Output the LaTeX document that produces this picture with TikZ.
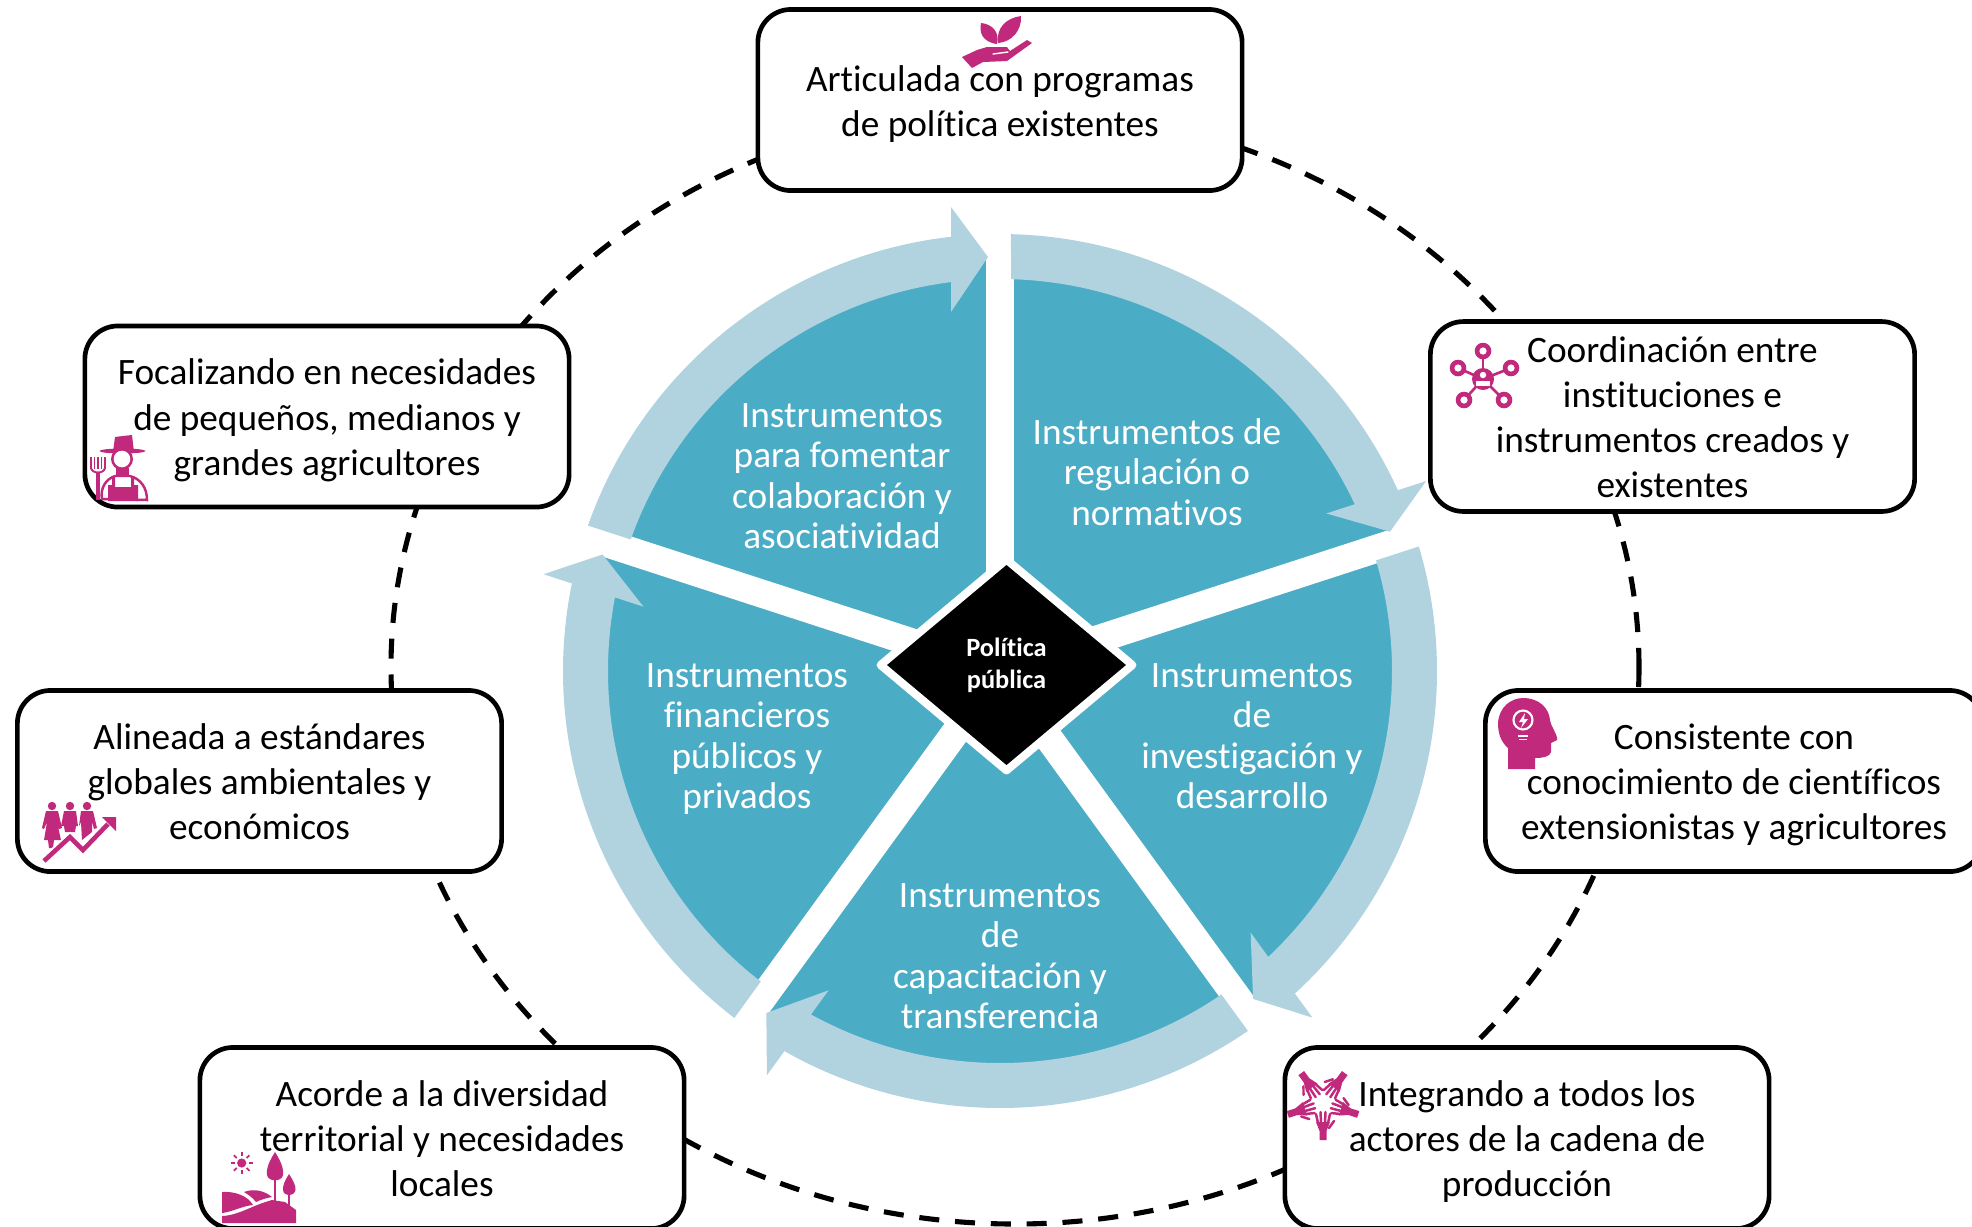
\documentclass[tikz,border=0pt]{standalone}
\usepackage{fontspec}
\setmainfont{Carlito}[Ligatures=NoCommon]
\usetikzlibrary{shapes.geometric,shadows}
\definecolor{tealwheel}{HTML}{4BACC6}
\definecolor{lightring}{HTML}{B1D3E0}
\definecolor{iconpink}{HTML}{C12A7C}
\newcommand\altocuadro{\rule{0pt}{11.6pt}}
\newcommand\altoinstr{\rule{0pt}{10.2pt}}
\tikzset{
  cuadro/.style={draw=black,fill=white,line width=1.33pt,rounded corners=0.33cm,align=center,
    minimum width=4.84cm,minimum height=1.81cm,inner sep=0pt,
    font=\fontsize{10.6}{12.85}\selectfont},
  instrumento/.style={white,align=center,inner sep=0pt,
    font=\fontsize{10.6}{11.5}\selectfont},
  icono/.style={fill=iconpink,draw=none},
  hueco/.style={draw=white,line width=0.5pt,line cap=round}
}
\begin{document}
\begin{tikzpicture}[x=0.01cm,y=-0.01cm]
    \useasboundingbox (0,0) rectangle (1972,1226);
    \draw[line width=1.45pt,dash pattern=on 5.7pt off 4.5pt] (1015,667) ellipse [x radius=624,y radius=557];

    \fill[tealwheel] (1000,671) circle [radius=414];
    \foreach \k in {0,...,4}
      \draw[white,line width=0.28cm,shift={(1000,671)},rotate=-72*\k] (0,0) -- (0,-448);
    \foreach \k in {0,...,4}
      \fill[lightring,shift={(1000,671)},rotate=-72*\k]
        (-160.56:437) arc [start angle=-160.56,end angle=-96.44,radius=437]
        -- (-49,-464) -- (-12,-414) -- (-49,-359)
        -- (-97.18:392) arc [start angle=-97.18,end angle=-160.39,radius=392] -- cycle;

    \node[instrumento] (colaboracion) at (842,476) {\altoinstr Instrumentos\\para fomentar\\colaboración y\\asociatividad\strut};
    \node[instrumento] (regulacion) at (1157,473) {\altoinstr Instrumentos de\\regulación o\\normativos\strut};
    \node[instrumento] (investigacion) at (1252,736) {\altoinstr Instrumentos\\de\\investigación y\\desarrollo\strut};
    \node[instrumento] (capacitacion) at (1000,956) {\altoinstr Instrumentos\\de\\capacitación y\\transferencia\strut};
    \node[instrumento] (financieros) at (747,736) {\altoinstr Instrumentos\\financieros\\públicos y\\privados\strut};

    \node[diamond,aspect=1.193,minimum width=2.55cm,minimum height=2.14cm,inner sep=0pt,fill=black,draw=white,
      line width=2.27pt,line join=round,drop shadow={shadow xshift=0.4pt,shadow yshift=-0.8pt,opacity=0.3},
      text=white,align=center,font=\fontsize{7.5}{9.1}\selectfont\bfseries] (centro) at (1006.5,665) {Política\\pública};

    \node[cuadro] (articulada) at (1000,100) {\altocuadro Articulada con programas\\de política existentes\strut};
    \node[cuadro] (coordinacion) at (1672.5,416.5) {\altocuadro Coordinación entre\\instituciones e\\instrumentos creados y\\existentes\strut};
    \node[cuadro,minimum width=4.97cm] (consistente) at (1734,781) {\altocuadro Consistente con\\conocimiento de científicos\\extensionistas y agricultores\strut};
    \node[cuadro] (integrando) at (1527,1138) {\altocuadro Integrando a todos los\\actores de la cadena de\\producción\strut};
    \node[cuadro] (acorde) at (442,1138) {\altocuadro Acorde a la diversidad\\territorial y necesidades\\locales\strut};
    \node[cuadro] (alineada) at (259.5,781) {\altocuadro Alineada a estándares\\globales ambientales y\\económicos\strut};
    \node[cuadro] (focalizando) at (327,416.5) {\altocuadro Focalizando en necesidades\\de pequeños, medianos y\\grandes agricultores\strut};

    % mano con brote
    \fill[icono] (997,44) .. controls (982,42) and (979,32) .. (981,23) .. controls (992,24) and (1000,32) .. (997,44) -- cycle;
    \fill[icono] (998,43) .. controls (996,28) and (1006,18) .. (1021,16) .. controls (1022,30) and (1012,42) .. (998,43) -- cycle;
    \fill[icono] (962,57) -- (977,50) -- (987,47) -- (1007,47) -- (1010,51) -- (1027,40) -- (1032,43) -- (1007,61) -- (983,62) -- (972,68) -- cycle;
    \draw[hueco,line width=0.4pt] (993,54) -- (1008,52);

    % red de personas
    \foreach \px/\py in {1483/351,1458/368,1511/368,1464/400,1504/400}
      \draw[iconpink,line width=0.75pt] (1483,379) -- (\px,\py);
    \foreach \px/\py in {1483/351,1458/368,1511/368,1464/400,1504/400}{
      \fill[icono] (\px,\py) circle [radius=8.3];
      \fill[white] (\px,\py) circle [radius=3.6];
    }
    \fill[icono] (1483,379) circle [radius=11];
    \fill[white] (1483,375) circle [radius=3.2];
    \fill[white] (1476,386) rectangle (1490,381);

    % cabeza con idea
    \fill[icono] (1508,769) -- (1508,748) .. controls (1500,741) and (1498,732) .. (1498,723)
      .. controls (1499,707) and (1511,698) .. (1523,698) .. controls (1539,698) and (1549,708) .. (1550,720)
      .. controls (1551,727) and (1558,735) .. (1557,740) -- (1551,743) -- (1551,752) .. controls (1550,757) and (1542,758) .. (1535,758)
      -- (1535,769) -- cycle;
    \draw[white,line width=0.6pt] (1523,720) circle [radius=9.5];
    \draw[white,line width=0.5pt] (1518,736) -- (1528,736) (1519,739.5) -- (1527,739.5);
    \fill[white] (1525,713) -- (1519,722) -- (1523,722) -- (1521,728) -- (1528,719) -- (1524,719) -- cycle;

    % manos
    \foreach \a in {0,72,144,216,288}{
      \begin{scope}[shift={(1323,1103)},rotate=\a]
        \fill[icono] (-3.5,37) -- (3.5,37) -- (3.5,28) -- (7,19) -- (-7,19) -- (-3.5,28) -- cycle;
        \foreach \fx/\tx/\ty in {-5/-7/11,-2/-2.5/9,2/2.5/9,5/7/11}
          \draw[iconpink,line width=0.7pt,line cap=round] (\fx,20) -- (\tx,\ty);
        \draw[iconpink,line width=0.7pt,line cap=round] (6,25) -- (11,18);
      \end{scope}
    }

    % paisaje
    \fill[icono] (241.7,1163) circle [radius=4.6];
    \foreach \a in {0,45,...,315}
      \draw[iconpink,line width=0.5pt,shift={(241.7,1163)},rotate=\a] (7,0) -- (11,0);
    \fill[icono] (275,1152) .. controls (280,1160) and (284,1168) .. (283,1175) .. controls (282,1182) and (268,1182) .. (267,1175) .. controls (266,1168) and (270,1160) .. (275,1152) -- cycle;
    \fill[icono] (289,1174) .. controls (293,1180) and (296,1186) .. (295.5,1190) .. controls (294,1197) and (284,1197) .. (283,1190) .. controls (282.5,1186) and (285,1180) .. (289,1174) -- cycle;
    \draw[iconpink,line width=0.7pt] (275,1180) -- (275,1202) (289,1195) -- (289,1206);
    \fill[icono] (222,1192) .. controls (235,1191) and (248,1196) .. (253,1205) .. controls (242,1206) and (232,1212) .. (222,1213) -- cycle;
    \fill[icono] (244,1192) .. controls (254,1188) and (265,1191) .. (272,1197) .. controls (266,1198) and (260,1200) .. (256,1202) .. controls (253,1198) and (249,1195) .. (244,1192) -- cycle;
    \fill[icono] (222,1216) .. controls (240,1215) and (250,1206) .. (272,1200) -- (285,1202) -- (296,1210) -- (296,1223) -- (222,1223) -- cycle;

    % personas y flecha
    \foreach \px in {52,70,87}
      \fill[icono] (\px,806) circle [radius=4.2];
    \fill[icono] (46,811) -- (58,811) -- (62,828) -- (59,829) -- (57,822) -- (61,840) -- (54,840) -- (53,848) -- (49,848) -- (48,840) -- (44,840) -- (47,822) -- (44,829) -- (42,828) -- cycle;
    \fill[icono] (64,811) -- (76,811) -- (78,826) -- (76,826) -- (75,832) -- (65,832) -- (64,826) -- (61,826) -- cycle;
    \fill[icono] (81,811) -- (93,811) -- (97,828) -- (94,829) -- (92,821) -- (92,832) -- (82,840) -- (81,822) -- (79,826) -- cycle;
    \draw[white,line width=2.2pt] (43,861) -- (70,837) -- (83,850) -- (108,824);
    \draw[iconpink,line width=1.3pt] (44,861) -- (70,837) -- (83,850) -- (108,824);
    \fill[icono] (102,817) -- (116,817) -- (116,831) -- cycle;

    % agricultor
    \fill[icono] (113,452) -- (115,437) -- (123,436) -- (132,435) -- (134,452) -- cycle;
    \fill[icono] (122.5,451) ellipse [x radius=23,y radius=2.5];
    \fill[icono] (122,459) circle [radius=11];
    \fill[white] (122,459) circle [radius=8.3];
    \fill[icono] (116,468) rectangle (129,476);
    \draw[iconpink,line width=0.7pt] (102,499) .. controls (100,488) and (106,479) .. (115,476) -- (130,476) .. controls (141,479) and (147,488) .. (147,500) -- cycle;
    \fill[icono] (108,501) -- (108,485) -- (112,485) -- (112,476) -- (115,476) -- (115,487) -- (131,487) -- (131,476) -- (134,476) -- (134,485) -- (138,485) -- (138,501) -- cycle;
    \foreach \px in {91,94.5,98,101.5,105}
      \draw[iconpink,line width=0.45pt] (\px,457) -- (\px,469);
    \draw[iconpink,line width=0.55pt] (91,468) .. controls (92,474) and (104,474) .. (105,468);
    \draw[iconpink,line width=1pt] (98,472) -- (98,500);
\end{tikzpicture}
\end{document}
